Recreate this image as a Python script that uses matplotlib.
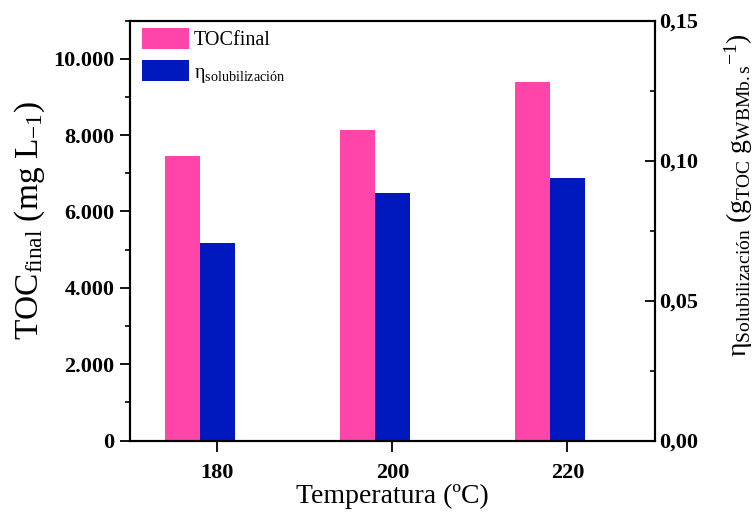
import numpy as np
import matplotlib
matplotlib.use("Agg")
import matplotlib.pyplot as plt
from matplotlib.ticker import MultipleLocator, FuncFormatter

plt.rcParams['font.family'] = ['Liberation Serif', 'DejaVu Serif']
plt.rcParams['mathtext.fontset'] = 'custom'
plt.rcParams['mathtext.rm'] = 'Liberation Serif'
plt.rcParams['mathtext.it'] = 'Liberation Serif:italic'
plt.rcParams['mathtext.bf'] = 'Liberation Serif:bold'

# data
temperatures = [180, 200, 220]
toc_final = [7450, 8120, 9380]
eta_solub = [0.0704, 0.0884, 0.0936]
left_ticks = [0, 2000, 4000, 6000, 8000, 10000]
right_ticks = [0.00, 0.05, 0.10, 0.15]

PINK = '#FF45AA'
BLUE = '#0019BF'
BAR_W = 4


def main():
    fig = plt.figure(figsize=(7.55, 5.13), dpi=100)
    ax = fig.add_axes([0.172, 0.1413, 0.6955, 0.8187])
    ax2 = ax.twinx()

    temps = np.array(temperatures)
    b1 = ax.bar(temps - BAR_W, toc_final, width=BAR_W, color=PINK, align='center')
    b2 = ax2.bar(temps, eta_solub, width=BAR_W, color=BLUE, align='center')

    ax.set_xlim(170, 230)
    ax.set_ylim(0, 11000)
    ax2.set_ylim(0, 0.15)
    ax.set_xticks(temperatures)
    ax.set_yticks(left_ticks)
    ax2.set_yticks(right_ticks)
    ax.yaxis.set_minor_locator(MultipleLocator(1000))
    ax2.yaxis.set_minor_locator(MultipleLocator(0.025))
    ax.yaxis.set_major_formatter(FuncFormatter(lambda v, p: f"{v:,.0f}".replace(',', '.')))
    ax2.yaxis.set_major_formatter(FuncFormatter(lambda v, p: f"{v:.2f}".replace('.', ',')))

    for a in (ax, ax2):
        for s in a.spines.values():
            s.set_linewidth(1.5)

    ax.tick_params(axis='y', which='major', direction='out', length=7, width=1.3,
                   labelsize=16, pad=4)
    ax.tick_params(axis='y', which='minor', direction='out', length=3.5, width=1.2)
    ax.tick_params(axis='x', which='major', direction='out', length=8, width=1.3,
                   labelsize=16, pad=8, top=False)
    ax2.tick_params(axis='y', which='major', direction='in', length=7, width=1.3,
                    labelsize=16, pad=3)
    ax2.tick_params(axis='y', which='minor', direction='in', length=3.5, width=1.2)
    for lab in ax.get_xticklabels() + ax.get_yticklabels() + ax2.get_yticklabels():
        lab.set_fontweight('bold')

    ax.set_xlabel('Temperatura (ºC)', fontsize=20, labelpad=1)
    ax.set_ylabel(r'TOC$_{\mathrm{final}}$ (mg L$_{\mathrm{-1}}$)', fontsize=24)
    ax.yaxis.set_label_coords(-0.158, 0.523)
    ax2.set_ylabel(r'$\mathrm{η}_{\mathrm{Solubilización}}\ (\mathrm{g}_{\mathrm{TOC}}\ \mathrm{g}_{\mathrm{WBMb.s}}{}^{\mathrm{-1}})$',
                   fontsize=20)
    ax2.yaxis.set_label_coords(1.128, 0.585)

    ax2.legend([b1, b2], ['TOCfinal', r'$\mathrm{η}_{\mathrm{solubilización}}$'],
               loc='upper left', bbox_to_anchor=(0.024, 0.983), borderaxespad=0,
               borderpad=0, frameon=False, fontsize=14.5, handlelength=2.3,
               handleheight=1.25, handletextpad=0.25, labelspacing=0.5)

    fig.savefig('out.png', dpi=100)


if __name__ == '__main__':
    main()
